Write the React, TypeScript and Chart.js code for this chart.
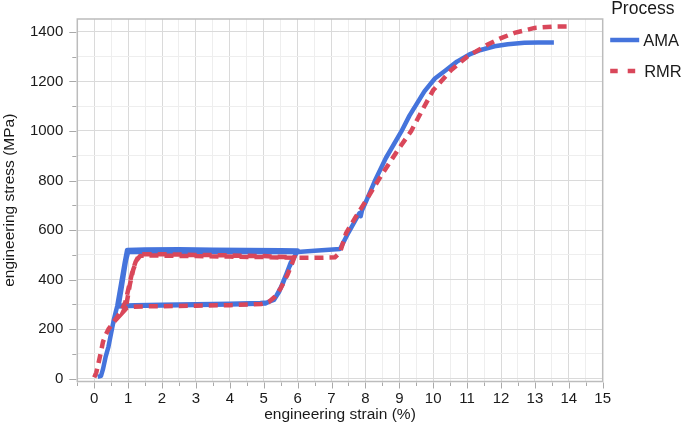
import { useEffect, useRef } from 'react';
import { Chart, registerables } from 'chart.js';

Chart.register(...registerables);

// ---- data (strain in %, stress in MPa) ----
const amaStrain = [
  0.1, 0.2, 0.26, 0.33, 0.42, 0.5, 0.58, 0.68, 0.8, 0.9, 0.97,
  1.5, 2.5, 3.5, 4.5, 5.5, 6.0,
  5.9, 5.75, 5.6, 5.45, 5.3, 5.1, 4.9, 4.0, 3.0, 2.0, 1.2, 0.72,
  0.8, 0.88, 0.95, 0.99,
  2.0, 3.0, 4.0, 5.0, 6.0,
  5.8, 5.55, 5.32, 5.05, 4.0, 3.0, 2.0, 1.0, 0.7,
  0.78, 0.86, 0.94, 1.0,
  2.0, 3.0, 4.0, 5.0, 6.0,
  6.5, 7.25, 7.5, 7.82, 7.86, 7.9, 8.0, 8.27, 8.6, 9.06, 9.3, 9.74, 10.05,
  10.38, 10.7, 11.07, 11.4, 11.81, 12.2, 12.69, 13.1, 13.56,
];
const amaStress = [
  8, 12, 40, 85, 130, 185, 240, 295, 390, 470, 520,
  522, 523, 521, 520, 519, 518,
  490, 450, 400, 350, 318, 308, 306, 303, 301, 299, 297, 295,
  360, 430, 490, 516,
  517, 516, 515, 515, 514,
  470, 380, 322, 304, 300, 298, 296, 294, 292,
  350, 420, 480, 512,
  513, 513, 512, 512, 512,
  517, 524, 590, 668, 656, 680, 710, 796, 890, 998, 1062, 1160, 1212,
  1246, 1280, 1309, 1327, 1342, 1350, 1356, 1357, 1357,
];

const rmrStrain = [
  0.0, 0.06, 0.12, 0.2, 0.26, 0.33, 0.42, 0.55, 0.68, 0.8, 0.92, 1.02, 1.12, 1.22, 1.32, 1.45,
  2.0, 3.0, 4.0, 5.0, 5.9,
  5.85, 5.7, 5.5, 5.32, 5.15, 4.93, 4.0, 3.0, 2.0, 1.4, 1.1, 0.95, 0.85,
  0.95, 1.05, 1.15, 1.25, 1.35, 1.5,
  2.0, 3.0, 4.0, 5.0, 6.0,
  6.5, 7.1, 7.25, 7.43, 7.7, 7.97, 8.42, 8.96, 9.35, 9.7, 10.0, 10.53,
  11.02, 11.61, 12.0, 12.4, 12.99, 13.5, 14.1,
];
const rmrStress = [
  6, 25, 60, 110, 150, 175, 200, 225, 250, 275, 310, 370, 430, 472, 497, 503,
  503, 500, 498, 495, 490,
  470, 420, 365, 330, 310, 302, 297, 295, 293, 292, 290, 285, 270,
  300, 380, 440, 478, 495, 498,
  497, 495, 493, 491, 488,
  488, 490, 510, 588, 650, 709, 810, 924, 1000, 1090, 1165, 1246,
  1302, 1349, 1375, 1396, 1416, 1421, 1422,
];

const seriesNames = ['AMA', 'RMR'];
const legendTitle = 'Process';
const xTitle = 'engineering strain (%)';
const yTitle = 'engineering stress (MPa)';

const BLUE = '#4574dc';
const RED = '#d9475a';
const FONT = '"Liberation Sans", Arial, Helvetica, sans-serif';
const TEXT = '#1a1a1a';

const toPoints = (xs: number[], ys: number[]) => xs.map((x, i) => ({ x, y: ys[i] }));

const framePlugin = {
  id: 'frameAndTicks',
  beforeDatasetsDraw(chart: any) {
    const { ctx, chartArea: a } = chart;
    ctx.save();
    ctx.strokeStyle = '#bcbcbc';
    ctx.lineWidth = 1.5;
    ctx.strokeRect(a.left, a.top, a.right - a.left, a.bottom - a.top);
    ctx.restore();
  },
  afterDraw(chart: any) {
    const { ctx, chartArea: a, scales } = chart;
    ctx.save();
    ctx.strokeStyle = '#a9a9a9';
    ctx.lineWidth = 1;
    for (const t of scales.x.ticks) {
      const px = Math.round(scales.x.getPixelForValue(t.value)) + 0.5;
      const major = Number.isInteger(t.value);
      ctx.beginPath();
      ctx.moveTo(px, a.bottom + 1);
      ctx.lineTo(px, a.bottom + (major ? 7 : 4.5));
      ctx.stroke();
    }
    for (const t of scales.y.ticks) {
      const py = Math.round(scales.y.getPixelForValue(t.value)) + 0.5;
      const major = t.value % 200 === 0;
      ctx.beginPath();
      ctx.moveTo(a.left - 1, py);
      ctx.lineTo(a.left - (major ? 8 : 5), py);
      ctx.stroke();
    }
    // legend
    const lx = a.right + 7.5;
    ctx.fillStyle = TEXT;
    ctx.textBaseline = 'alphabetic';
    ctx.textAlign = 'left';
    ctx.font = `17.5px ${FONT}`;
    ctx.fillText(legendTitle, lx + 1, a.top - 5);
    ctx.font = `16.5px ${FONT}`;
    ctx.lineWidth = 4.5;
    ctx.strokeStyle = BLUE;
    ctx.setLineDash([]);
    ctx.beginPath();
    ctx.moveTo(lx, a.top + 21);
    ctx.lineTo(lx + 29, a.top + 21);
    ctx.stroke();
    ctx.fillText(seriesNames[0], lx + 33, a.top + 27);
    ctx.strokeStyle = RED;
    ctx.setLineDash([7.5, 10]);
    ctx.beginPath();
    ctx.moveTo(lx, a.top + 52);
    ctx.lineTo(lx + 26, a.top + 52);
    ctx.stroke();
    ctx.setLineDash([]);
    ctx.fillText(seriesNames[1], lx + 34, a.top + 58);
    ctx.restore();
  },
};

export default function App() {
  const ref = useRef<HTMLCanvasElement | null>(null);
  useEffect(() => {
    if (!ref.current) return;
    const chart = new Chart(ref.current, {
      type: 'scatter',
      data: {
        datasets: [
          {
            label: seriesNames[0],
            data: toPoints(amaStrain, amaStress),
            showLine: true,
            borderColor: BLUE,
            backgroundColor: BLUE,
            borderWidth: 4.5,
            pointRadius: 0,
            tension: 0,
            borderJoinStyle: 'round',
            order: 1,
          },
          {
            label: seriesNames[1],
            data: toPoints(rmrStrain, rmrStress),
            showLine: true,
            borderColor: RED,
            backgroundColor: RED,
            borderWidth: 4.5,
            borderDash: [9, 6],
            pointRadius: 0,
            tension: 0,
            order: 0,
          },
        ],
      },
      options: {
        animation: false,
        responsive: false,
        layout: { padding: { top: 19, right: 82.3, left: 0, bottom: 0 } },
        plugins: { legend: { display: false }, tooltip: { enabled: false } },
        scales: {
          x: {
            type: 'linear',
            min: -0.5,
            max: 15,
            border: { display: false },
            grid: {
              drawTicks: false,
              color: (c: any) => (Number.isInteger(c.tick?.value) ? '#dadada' : '#eeeeee'),
              lineWidth: 1,
            },
            ticks: {
              stepSize: 0.5,
              autoSkip: false,
              maxRotation: 0,
              padding: 8,
              color: TEXT,
              font: { family: FONT, size: 15 },
              callback: (v: any) => (Number.isInteger(v) && v >= 0 ? String(v) : ''),
            },
            title: {
              display: true,
              text: xTitle,
              color: TEXT,
              font: { family: FONT, size: 15.5 },
              padding: { top: 0, bottom: 2 },
            },
            afterFit: (s: any) => { s.height = 44.5; s.paddingLeft = 0; s.paddingRight = 0; },
          },
          y: {
            type: 'linear',
            min: -11,
            max: 1452,
            border: { display: false },
            grid: {
              drawTicks: false,
              color: (c: any) => (c.tick?.value % 200 === 0 ? '#dadada' : '#eeeeee'),
              lineWidth: 1,
            },
            ticks: {
              stepSize: 100,
              includeBounds: false,
              autoSkip: false,
              padding: 14,
              color: TEXT,
              font: { family: FONT, size: 15 },
              callback: (v: any) => (v % 200 === 0 ? String(v) : ''),
            },
            title: {
              display: true,
              text: yTitle,
              color: TEXT,
              font: { family: FONT, size: 15.5 },
              padding: { top: 0, bottom: 0 },
            },
            afterFit: (s: any) => { s.width = 77.3; s.paddingTop = 0; s.paddingBottom = 0; },
          },
        },
      },
      plugins: [framePlugin],
    });
    return () => chart.destroy();
  }, []);
  return (
    <div style={{ position: 'absolute', left: 0, top: 0, width: 685, height: 426, background: '#fff' }}>
      <canvas ref={ref} width={685} height={426} style={{ width: 685, height: 426, display: 'block' }} />
    </div>
  );
}
